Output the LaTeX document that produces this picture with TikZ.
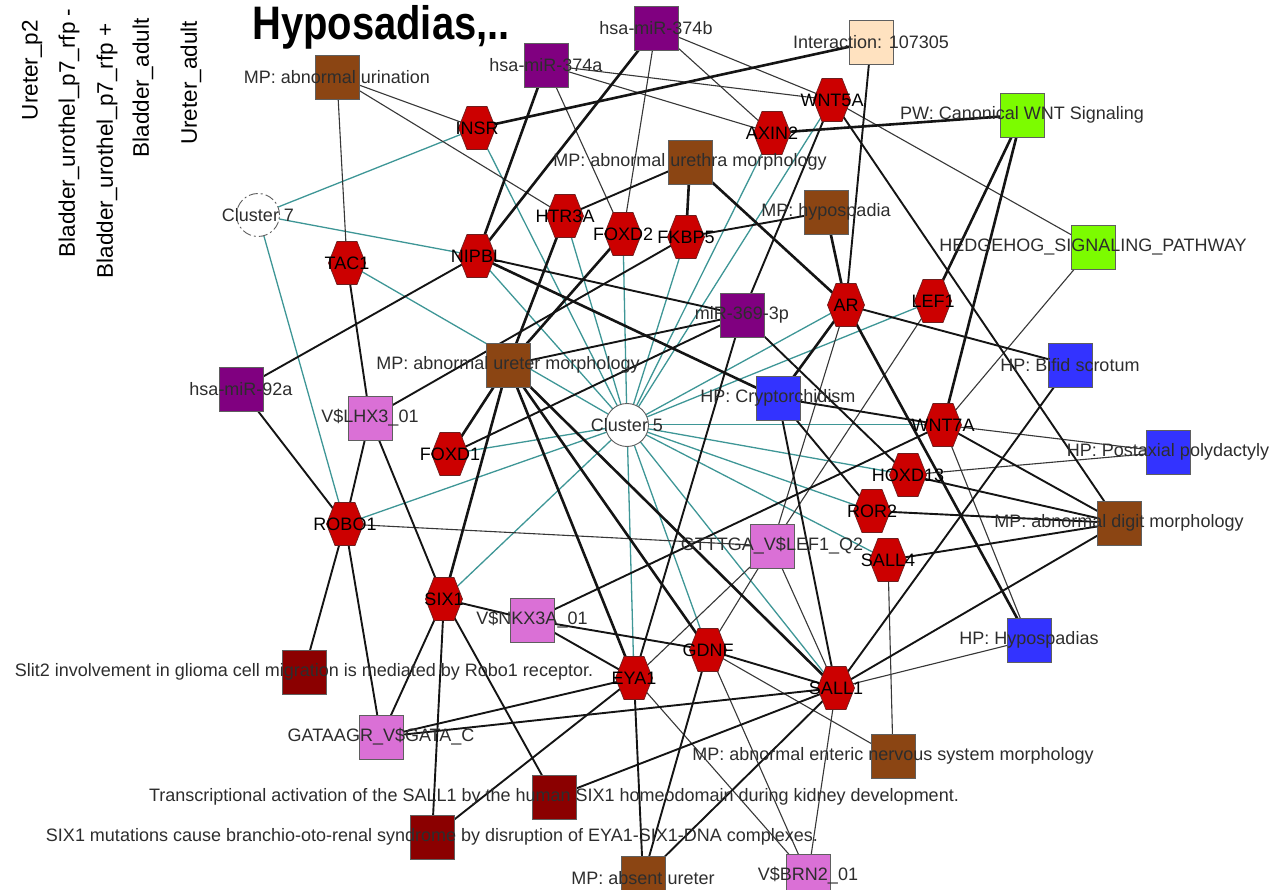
\documentclass[tikz,border=0pt]{standalone}
\usepackage{fontspec}
\setmainfont{Liberation Sans}
\usepackage{graphicx}
\pgfdeclarelayer{edges}
\pgfdeclarelayer{labels}
\pgfsetlayers{edges,main,labels}
\definecolor{hexred}{RGB}{204,0,0}
\definecolor{hexborder}{RGB}{110,30,30}
\definecolor{nborder}{RGB}{95,95,95}
\definecolor{brownn}{RGB}{139,69,19}
\definecolor{purplen}{RGB}{128,0,128}
\definecolor{bluen}{RGB}{51,51,255}
\definecolor{orchidn}{RGB}{218,112,214}
\definecolor{greenn}{RGB}{124,252,0}
\definecolor{peachn}{RGB}{255,226,192}
\definecolor{darkredn}{RGB}{139,0,0}
\definecolor{tealedge}{RGB}{62,150,150}
\definecolor{edgeblack}{RGB}{20,20,20}
\definecolor{labelgray}{RGB}{45,45,45}
\tikzset{
  sq/.style={rectangle, minimum size=44pt, inner sep=0pt, outer sep=0pt, draw=nborder, line width=0.9pt},
  hx/.style={circle, minimum size=50pt, inner sep=0pt, outer sep=0pt, path picture={
     \filldraw[fill=hexred, draw=hexborder, line width=0.7pt]
     ([xshift=-18.5pt]path picture bounding box.center) -- ++(8.5pt,21.5pt) -- ++(20pt,0pt) -- ++(8.5pt,-21.5pt)
       -- ++(-8.5pt,-21.5pt) -- ++(-20pt,0pt) -- cycle;}},
  clu/.style={circle, minimum size=43pt, inner sep=0pt, draw=nborder, fill=white, line width=0.9pt},
  lbl/.style={inner sep=0pt, font=\fontsize{18}{18}\selectfont, text=labelgray},
  hlbl/.style={inner sep=0pt, font=\fontsize{18}{18}\selectfont, text=black},
  rot/.style={inner sep=0pt, rotate=90, font=\fontsize{22.5}{22.5}\selectfont, text=black},
  eT/.style={draw=edgeblack, line width=2.6pt},
  eM/.style={draw=edgeblack, line width=1.9pt},
  et/.style={draw=edgeblack!85, line width=1.1pt},
  ec/.style={draw=tealedge, line width=1.3pt},
}
\newcommand\mksq[5]{\node[sq, fill=#5] (#1) at (#2,#3) {};
  \begin{pgfonlayer}{labels}\node[lbl] (#1l) at (#1) {#4};\end{pgfonlayer}}
\newcommand\mkhx[4]{\node[hx] (#1) at (#2,#3) {};
  \begin{pgfonlayer}{labels}\node[hlbl] (#1l) at (#1) {#4};\end{pgfonlayer}}
\begin{document}
\begin{tikzpicture}[x=1pt,y=-1pt]
\useasboundingbox (0,0) rectangle (1287,890);

% title and vertical texts
\node[anchor=north west, inner sep=0pt, font=\bfseries\fontsize{47}{47}\selectfont] (title) at (252,5) {\scalebox{0.85}[1]{Hyposadias,..}};
\node[rot] (t1) at (32,70) {Ureter\_p2};
\node[rot] (t2) at (69,133) {Bladder\_urothel\_p7\_rfp -};
\node[rot] (t3) at (107,151) {Bladder\_urothel\_p7\_rfp +};
\node[rot] (t4) at (143,88) {Bladder\_adult};
\node[rot] (t5) at (191,83) {Ureter\_adult};

% clusters
\node[clu] (C5) at (627,425) {};
\node[clu, dash pattern=on 9pt off 3pt on 2pt off 3pt] (C7) at (258,215) {};
\begin{pgfonlayer}{labels}
\node[lbl] (C5l) at (C5) {Cluster 5};
\node[lbl] (C7l) at (C7) {Cluster 7};
\end{pgfonlayer}

% hexagon (gene) nodes
\mkhx{INSR}{477}{128}{INSR}
\mkhx{NIPBL}{477}{256}{NIPBL}
\mkhx{TAC1}{347}{263}{TAC1}
\mkhx{HTR3A}{565}{216}{HTR3A}
\mkhx{FOXD2}{623}{234}{FOXD2}
\mkhx{FKBP5}{686}{237}{FKBP5}
\mkhx{AXIN2}{772}{133}{AXIN2}
\mkhx{WNT5A}{832}{100}{WNT5A}
\mkhx{AR}{846}{305}{AR}
\mkhx{LEF1}{933}{301}{LEF1}
\mkhx{WNT7A}{943}{425}{WNT7A}
\mkhx{HOXD13}{908}{475}{HOXD13}
\mkhx{ROR2}{872}{511}{ROR2}
\mkhx{SALL4}{888}{560}{SALL4}
\mkhx{SALL1}{836}{688}{SALL1}
\mkhx{GDNF}{708}{650}{GDNF}
\mkhx{EYA1}{634}{678}{EYA1}
\mkhx{SIX1}{444}{599}{SIX1}
\mkhx{ROBO1}{345}{524}{ROBO1}
\mkhx{FOXD1}{450}{454}{FOXD1}

% square nodes
\mksq{urin}{337}{77}{MP: abnormal urination}{brownn}
\mksq{mA}{546}{65}{hsa-miR-374a}{purplen}
\mksq{mB}{656}{28}{hsa-miR-374b}{purplen}
\mksq{inter}{871}{42}{Interaction: 107305}{peachn}
\mksq{pw}{1022}{115}{PW: Canonical WNT Signaling}{greenn}
\mksq{hh}{1093}{247}{HEDGEHOG\_SIGNALING\_PATHWAY}{greenn}
\mksq{urethra}{690}{162}{MP: abnormal urethra morphology}{brownn}
\mksq{hypo}{826}{212}{MP: hypospadia}{brownn}
\mksq{mir369}{742}{315}{miR-369-3p}{purplen}
\mksq{ureter}{508}{365}{MP: abnormal ureter morphology}{brownn}
\mksq{crypt}{778}{398}{HP: Cryptorchidism}{bluen}
\mksq{mir92}{241}{389}{hsa-miR-92a}{purplen}
\mksq{lhx}{370}{418}{V\$LHX3\_01}{orchidn}
\mksq{bifid}{1070}{365}{HP: Bifid scrotum}{bluen}
\mksq{post}{1168}{452}{HP: Postaxial polydactyly}{bluen}
\mksq{digit}{1119}{523}{MP: abnormal digit morphology}{brownn}
\mksq{gtt}{772}{546}{GTTTGA\_V\$LEF1\_Q2}{orchidn}
\mksq{nkx}{532}{620}{V\$NKX3A\_01}{orchidn}
\mksq{hyposp}{1029}{640}{HP: Hypospadias}{bluen}
\mksq{slit}{304}{672}{Slit2 involvement in glioma cell migration is mediated by Robo1 receptor.}{darkredn}
\mksq{gata}{381}{737}{GATAAGR\_V\$GATA\_C}{orchidn}
\mksq{enteric}{893}{756}{MP: abnormal enteric nervous system morphology}{brownn}
\mksq{transcr}{554}{797}{Transcriptional activation of the SALL1 by the human SIX1 homeodomain during kidney development.}{darkredn}
\mksq{mut}{432}{837}{SIX1 mutations cause branchio-oto-renal syndrome by disruption of EYA1-SIX1-DNA complexes.}{darkredn}
\mksq{absent}{643}{878}{MP: absent ureter}{brownn}
\mksq{brn}{808}{876}{V\$BRN2\_01}{orchidn}

% edges
\begin{pgfonlayer}{edges}
\foreach \a/\b in {C7/INSR, C7/NIPBL, C7/ROBO1,
  C5/INSR, C5/NIPBL, C5/TAC1, C5/HTR3A, C5/FOXD2, C5/FKBP5, C5/AXIN2, C5/WNT5A, C5/AR, C5/LEF1,
  C5/HOXD13, C5/ROR2, C5/SALL4, C5/SALL1, C5/GDNF, C5/EYA1, C5/SIX1, C5/ROBO1, C5/FOXD1}
  \draw[ec] (\a.center) -- (\b.center);
\draw[ec, line width=2.6pt] (C5.center) -- (WNT7A.center);
\draw[white, line width=0.6pt] (C5.center) -- (WNT7A.center);
\foreach \a/\b in {urin/TAC1, urin/INSR, urin/HTR3A, mA/FOXD2, mA/WNT5A, mA/AXIN2,
  mB/FOXD2, mB/AXIN2, mB/WNT5A, WNT5A/hh, hh/WNT7A, ROBO1/gtt, AR/gtt, LEF1/gtt,
  WNT7A/post, WNT7A/hyposp, HOXD13/post, SALL4/enteric, SALL1/hyposp, SALL1/gtt, SALL1/brn,
  gtt/GDNF, gtt/EYA1, EYA1/brn, GDNF/brn, GDNF/enteric}
  \draw[et] (\a.center) -- (\b.center);
\foreach \a/\b in {inter/AR, WNT5A/mir369, WNT5A/digit, urethra/HTR3A, hypo/FKBP5, FKBP5/lhx,
  NIPBL/mir92, NIPBL/mir369, TAC1/lhx, lhx/ROBO1, lhx/SIX1, mir92/ROBO1, ROBO1/slit, ROBO1/gata,
  FOXD1/mir369, ureter/mir369, mir369/HOXD13, mir369/EYA1, AR/bifid, crypt/ROR2, crypt/WNT7A, crypt/SALL1,
  WNT7A/digit, WNT7A/nkx, HOXD13/digit, ROR2/digit, SALL4/digit, SALL1/digit, SALL1/bifid,
  SALL1/GDNF, SALL1/gata, SALL1/absent, SALL1/transcr, SIX1/nkx, SIX1/gata, SIX1/transcr,
  SIX1/mut, nkx/EYA1, nkx/GDNF, gata/EYA1, EYA1/mut, EYA1/absent, GDNF/absent}
  \draw[eM] (\a.center) -- (\b.center);
\foreach \a/\b in {mA/NIPBL, mB/NIPBL, inter/INSR, AXIN2/pw, pw/LEF1, pw/WNT7A, urethra/FKBP5,
  urethra/AR, hypo/AR, NIPBL/crypt, ureter/FOXD1, ureter/SIX1, ureter/HTR3A, ureter/FOXD2,
  ureter/EYA1, ureter/GDNF, ureter/SALL1, AR/hyposp, AR/crypt}
  \draw[eT] (\a.center) -- (\b.center);
\end{pgfonlayer}
\end{tikzpicture}
\end{document}
